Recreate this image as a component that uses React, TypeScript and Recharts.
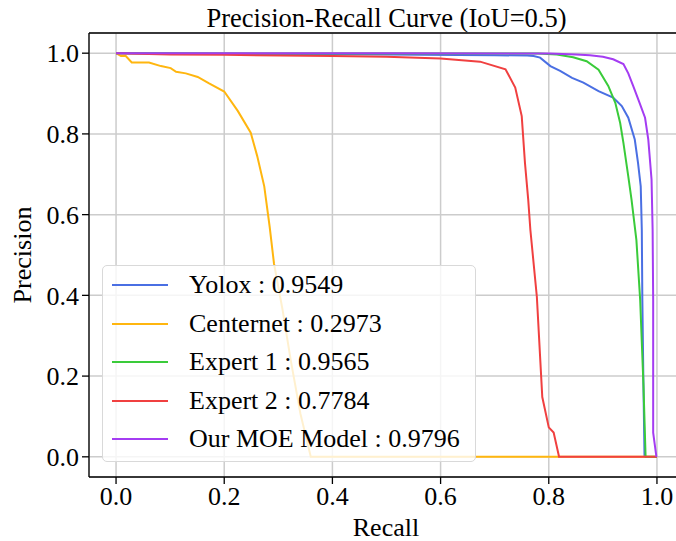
import React from 'react';
import { LineChart, Line, XAxis, YAxis, CartesianGrid, ReferenceLine } from 'recharts';

// Precision-recall points, [recall, precision]
const yoloxPts: [number, number][] = [
  [0, 1.0], [0.1, 0.999], [0.3, 0.998], [0.5, 0.997], [0.7, 0.995], [0.76, 0.994],
  [0.772, 0.993], [0.784, 0.989], [0.803, 0.968], [0.821, 0.956], [0.843, 0.939],
  [0.864, 0.927], [0.892, 0.906], [0.919, 0.89], [0.935, 0.869], [0.947, 0.84],
  [0.959, 0.786], [0.965, 0.728], [0.97, 0.67], [0.972, 0.562], [0.973, 0.388],
  [0.975, 0.18], [0.977, 0.0],
];

const centernetPts: [number, number][] = [
  [0, 1.0], [0.009, 0.993], [0.018, 0.993], [0.029, 0.977], [0.061, 0.977],
  [0.083, 0.968], [0.101, 0.963], [0.111, 0.954], [0.129, 0.95], [0.151, 0.941],
  [0.172, 0.925], [0.2, 0.905], [0.225, 0.857], [0.249, 0.803], [0.261, 0.745],
  [0.274, 0.67], [0.284, 0.57], [0.292, 0.479], [0.308, 0.363], [0.323, 0.239],
  [0.341, 0.106], [0.36, 0.0], [1.0, 0.0],
];

const expert1Pts: [number, number][] = [
  [0, 1.0], [0.3, 0.999], [0.6, 0.999], [0.78, 0.999], [0.815, 0.997], [0.845, 0.99],
  [0.87, 0.98], [0.892, 0.959], [0.91, 0.919], [0.923, 0.877], [0.932, 0.827],
  [0.938, 0.778], [0.947, 0.695], [0.953, 0.637], [0.962, 0.537], [0.969, 0.388],
  [0.975, 0.18], [0.979, 0.0], [1.0, 0.0],
];

const expert2Pts: [number, number][] = [
  [0, 1.0], [0.1, 0.997], [0.2, 0.996], [0.4, 0.993], [0.5, 0.991], [0.6, 0.987],
  [0.673, 0.979], [0.72, 0.96], [0.738, 0.915], [0.75, 0.844], [0.756, 0.728],
  [0.762, 0.637], [0.766, 0.562], [0.778, 0.396], [0.788, 0.148], [0.8, 0.073],
  [0.809, 0.06], [0.819, 0.0], [1.0, 0.0],
];

const moePts: [number, number][] = [
  [0, 1.0], [0.5, 1.0], [0.8, 0.999], [0.85, 0.997], [0.876, 0.995], [0.9, 0.991],
  [0.919, 0.985], [0.938, 0.973], [0.947, 0.95], [0.956, 0.919], [0.967, 0.88],
  [0.978, 0.84], [0.984, 0.786], [0.99, 0.687], [0.992, 0.562], [0.993, 0.388],
  [0.993, 0.06], [0.999, 0.0],
];

const seriesNames = ['Yolox', 'Centernet', 'Expert 1', 'Expert 2', 'Our MOE Model'];
const seriesAP = ['0.9549', '0.2973', '0.9565', '0.7784', '0.9796'];
const seriesColors = ['#4a6fe3', '#ffb60f', '#3acb3a', '#f04040', '#a43cf2'];
const seriesPoints = [yoloxPts, centernetPts, expert1Pts, expert2Pts, moePts];
const tickValues = [0, 0.2, 0.4, 0.6, 0.8, 1.0];

const FONT = '"Liberation Serif", "DejaVu Serif", serif';

const toRows = (pts: [number, number][]) => pts.map(([r, p]) => ({ r, p }));

const YTitle = () => (
  <text x={31} y={255} transform="rotate(-90 31 255)" textAnchor="middle"
    fontFamily={FONT} fontSize={26} fill="#000">Precision</text>
);

const XTitle = () => (
  <text x={386} y={536} textAnchor="middle" fontFamily={FONT} fontSize={26} fill="#000">Recall</text>
);

// legend box drawn on top, like matplotlib's framed legend
const LegendBox = () => (
  <div style={{
    position: 'absolute', left: 102, top: 265, width: 374, height: 197,
    boxSizing: 'border-box', border: '1px solid #d9d9d9', borderRadius: 5,
    background: 'rgba(255,255,255,0.8)', fontFamily: FONT, fontSize: 26, color: '#000',
  }}>
    {seriesNames.map((name, i) => {
      const center = 19 + i * 38.5;
      return (
        <React.Fragment key={name}>
          <div style={{ position: 'absolute', left: 9, top: center - 1, width: 56, height: 2, background: seriesColors[i] }} />
          <div style={{ position: 'absolute', left: 86, top: center - 15, height: 30, lineHeight: '30px', whiteSpace: 'nowrap' }}>
            {name} : {seriesAP[i]}
          </div>
        </React.Fragment>
      );
    })}
  </div>
);

export default function App() {
  const tickStyle = { fill: '#000', fontSize: 26, fontFamily: FONT };
  return (
    <div style={{ position: 'absolute', left: 0, top: 0, width: 676, height: 541, overflow: 'hidden', background: '#fff' }}>
      <div style={{
        position: 'absolute', left: 0, top: 3, width: 773, textAlign: 'center',
        fontFamily: FONT, fontSize: 26.5, lineHeight: 'normal', color: '#000',
      }}>
        Precision-Recall Curve (IoU=0.5)
      </div>
      <LineChart width={690} height={541} margin={{ top: 33, right: 6, bottom: 0, left: 0 }}>
        <CartesianGrid stroke="#cccccc" strokeWidth={1.5} />
        <XAxis dataKey="r" type="number" domain={[-0.05, 1.05]} allowDataOverflow ticks={tickValues}
          tickFormatter={(v: number) => v.toFixed(1)} height={64} tickSize={7} tickMargin={3}
          stroke="#000" strokeWidth={1.3} tick={tickStyle} label={<XTitle />} />
        <YAxis dataKey="p" type="number" domain={[-0.05, 1.05]} allowDataOverflow ticks={tickValues}
          tickFormatter={(v: number) => v.toFixed(1)} width={89} tickSize={7} tickMargin={3}
          stroke="#000" strokeWidth={1.3} tick={tickStyle} label={<YTitle />} />
        <ReferenceLine y={1.05} stroke="#000" strokeWidth={1.3} />
        {seriesPoints.map((pts, i) => (
          <Line key={seriesNames[i]} data={toRows(pts)} dataKey="p" type="linear"
            stroke={seriesColors[i]} strokeWidth={2} dot={false} isAnimationActive={false} />
        ))}
      </LineChart>
      <LegendBox />
    </div>
  );
}
